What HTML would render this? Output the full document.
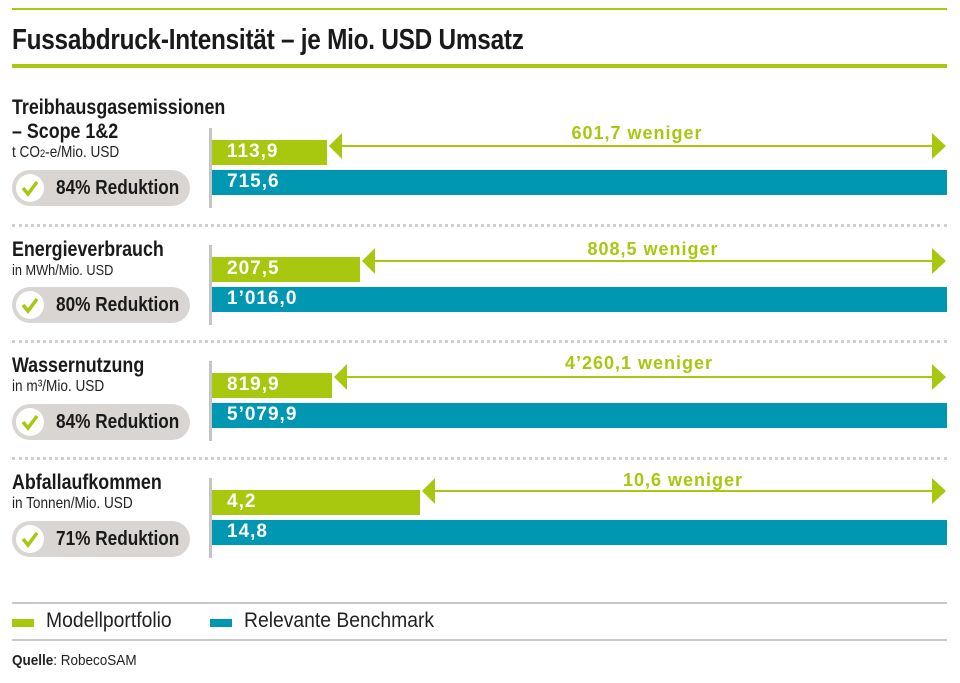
<!DOCTYPE html>
<html><head><meta charset="utf-8"><style>
body{margin:0;width:960px;height:683px;background:#fff;position:relative;overflow:hidden;font-family:"Liberation Sans",sans-serif;color:#1a1a1a}
.a{position:absolute;white-space:nowrap}
.n{transform:scaleX(0.85);transform-origin:0 0}
.g{background:#a8c70f}.b{background:#0097b3}
.bar{position:absolute;height:25px}
.v{position:absolute;left:15px;top:1px;font:bold 19px "Liberation Sans",sans-serif;color:#fff;letter-spacing:1px;white-space:nowrap}
.h{font-weight:bold;font-size:21px}
.s{font-size:16px;color:#222}
.pill{position:absolute;left:12px;width:178px;height:36px;border-radius:18px;background:#d8d5d2}
.pill .c{position:absolute;left:4px;top:4px;width:28px;height:28px;border-radius:14px;background:#fff}
.pill .t{position:absolute;left:44px;top:7px;font-weight:bold;font-size:20px;white-space:nowrap;transform:scaleX(0.86);transform-origin:0 0}
.ax{position:absolute;left:209px;width:3px;background:#c4c4c4}
.dot{position:absolute;left:12px;width:935px;border-top:3px dotted #cfcfcf}
.wen{position:absolute;font:bold 18px "Liberation Sans",sans-serif;color:#a8c70f;letter-spacing:1px;transform:translateX(-50%);white-space:nowrap}
</style></head><body>
<div class="a g" style="left:12px;top:8px;width:935px;height:2px"></div>
<div class="a n" style="left:12px;top:24px;font-weight:bold;font-size:29px;letter-spacing:-0.3px;transform:scaleX(0.84)">Fussabdruck-Intensität – je Mio. USD Umsatz</div>
<div class="a g" style="left:12px;top:64px;width:935px;height:4px"></div>

<div class="a h n" style="left:12px;top:96px;line-height:24px">Treibhausgasemissionen<br>– Scope 1&amp;2</div>
<div class="a s n" style="left:12px;top:144px">t CO<span style="font-size:11px">2</span>-e/Mio. USD</div>
<div class="pill" style="top:170px"><div class="c"><svg width="28" height="28"><path d="M7 14 L12 20 L21 8" stroke="#a8c70f" stroke-width="3.5" fill="none"/></svg></div><div class="t">84% Reduktion</div></div>
<div class="ax" style="top:128px;height:80px"></div>
<div class="bar g" style="left:212px;top:140px;width:115px"><span class="v">113,9</span></div>
<div class="bar b" style="left:212px;top:170px;width:735px"><span class="v">715,6</span></div>
<div class="wen" style="left:637px;top:123px">601,7 weniger</div>

<div class="dot" style="top:224px"></div>

<div class="a h n" style="left:12px;top:238px">Energieverbrauch</div>
<div class="a s n" style="left:12px;top:262px;font-size:15px">in MWh/Mio. USD</div>
<div class="pill" style="top:287px"><div class="c"><svg width="28" height="28"><path d="M7 14 L12 20 L21 8" stroke="#a8c70f" stroke-width="3.5" fill="none"/></svg></div><div class="t">80% Reduktion</div></div>
<div class="ax" style="top:245px;height:80px"></div>
<div class="bar g" style="left:212px;top:257px;width:148px"><span class="v">207,5</span></div>
<div class="bar b" style="left:212px;top:287px;width:735px"><span class="v">1’016,0</span></div>
<div class="wen" style="left:653px;top:239px">808,5 weniger</div>

<div class="dot" style="top:340px"></div>

<div class="a h n" style="left:12px;top:354px">Wassernutzung</div>
<div class="a s n" style="left:12px;top:378px">in m³/Mio. USD</div>
<div class="pill" style="top:404px"><div class="c"><svg width="28" height="28"><path d="M7 14 L12 20 L21 8" stroke="#a8c70f" stroke-width="3.5" fill="none"/></svg></div><div class="t">84% Reduktion</div></div>
<div class="ax" style="top:361px;height:80px"></div>
<div class="bar g" style="left:212px;top:373px;width:120px"><span class="v">819,9</span></div>
<div class="bar b" style="left:212px;top:403px;width:735px"><span class="v">5’079,9</span></div>
<div class="wen" style="left:639px;top:353px">4’260,1 weniger</div>

<div class="dot" style="top:457px"></div>

<div class="a h n" style="left:12px;top:471px">Abfallaufkommen</div>
<div class="a s n" style="left:12px;top:495px">in Tonnen/Mio. USD</div>
<div class="pill" style="top:521px"><div class="c"><svg width="28" height="28"><path d="M7 14 L12 20 L21 8" stroke="#a8c70f" stroke-width="3.5" fill="none"/></svg></div><div class="t">71% Reduktion</div></div>
<div class="ax" style="top:478px;height:80px"></div>
<div class="bar g" style="left:212px;top:490px;width:208px"><span class="v">4,2</span></div>
<div class="bar b" style="left:212px;top:520px;width:735px"><span class="v">14,8</span></div>
<div class="wen" style="left:683px;top:470px">10,6 weniger</div>

<svg class="a" style="left:0;top:0" width="960" height="683">
<g stroke="#a8c70f" stroke-width="2" fill="#a8c70f">
<line x1="335" y1="146" x2="936" y2="146"/><path d="M329 146 L342 133 L342 159Z M946 146 L932 133 L932 159Z" stroke="none"/>
<line x1="368" y1="261" x2="936" y2="261"/><path d="M362 261 L375 248 L375 274Z M946 261 L932 248 L932 274Z" stroke="none"/>
<line x1="340" y1="377" x2="936" y2="377"/><path d="M334 377 L347 364 L347 390Z M946 377 L932 364 L932 390Z" stroke="none"/>
<line x1="428" y1="491" x2="936" y2="491"/><path d="M422 491 L435 478 L435 504Z M946 491 L932 478 L932 504Z" stroke="none"/>
</g></svg>

<div class="a" style="left:12px;top:602px;width:935px;height:2px;background:#c8c8c8"></div>
<div class="a g" style="left:12px;top:619px;width:22px;height:8px"></div>
<div class="a" style="left:46px;top:609px;font-size:21px;color:#222;transform:scaleX(0.92);transform-origin:0 0">Modellportfolio</div>
<div class="a b" style="left:210px;top:619px;width:22px;height:8px"></div>
<div class="a" style="left:244px;top:609px;font-size:21px;color:#222;transform:scaleX(0.92);transform-origin:0 0">Relevante Benchmark</div>
<div class="a" style="left:12px;top:639px;width:935px;height:2px;background:#c8c8c8"></div>
<div class="a" style="left:12px;top:652px;font-size:15px;color:#222;transform:scaleX(0.9);transform-origin:0 0"><b>Quelle</b>: RobecoSAM</div>
</body></html>
